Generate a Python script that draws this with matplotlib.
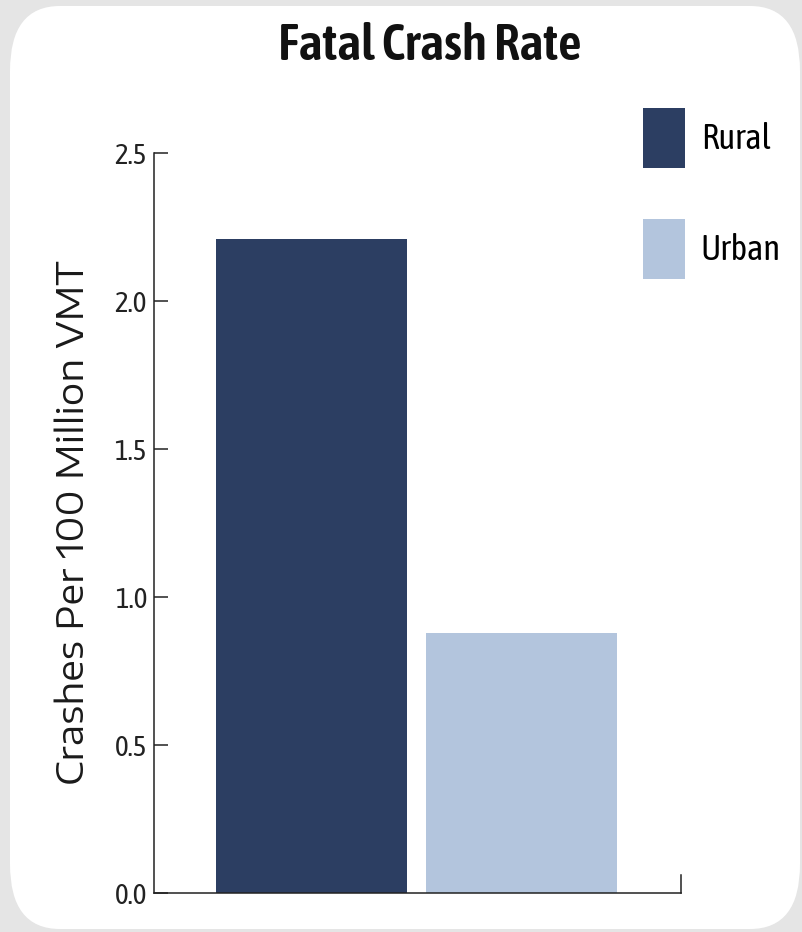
import matplotlib.pyplot as plt
from matplotlib.patches import FancyBboxPatch

# fatal crashes per 100 million vehicle miles travelled
areas = ['Rural', 'Urban']
rates = [2.21, 0.88]
bar_colors = ['#2c3e62', '#b3c5dd']
yticks = [0.0, 0.5, 1.0, 1.5, 2.0, 2.5]

narrow = ['Asap Condensed', 'DejaVu Sans']
wide = ['Encode Sans Expanded', 'Open Sans', 'DejaVu Sans']

fig = plt.figure(figsize=(8.02, 9.32), dpi=100, facecolor='#e5e5e5')

# white card with rounded corners behind everything
card = FancyBboxPatch((0.10, 0.03), 7.90, 9.23,
                      boxstyle='round,pad=0,rounding_size=0.5',
                      mutation_aspect=1.3,
                      transform=fig.dpi_scale_trans,
                      facecolor='white', edgecolor='none', zorder=-1)
fig.patches.append(card)

ax = fig.add_axes([0.192, 0.0418, 0.657, 0.794])
ax.set_facecolor('none')

bars = ax.bar([0, 1], rates, width=0.907, color=bar_colors, zorder=2)

ax.set_xlim(-0.748, 1.755)
ax.set_ylim(0, 2.5)
ax.set_xticks([])
ax.set_yticks(yticks)
ax.set_yticklabels(['%.1f' % t for t in yticks], family=narrow, stretch='condensed',
                   fontsize=21, color='#1a1a1a')
ax.tick_params(axis='y', direction='in', length=10, width=1.1, pad=5, colors='#222222')

for s in ['left', 'bottom', 'right']:
    ax.spines[s].set_linewidth(1.1)
    ax.spines[s].set_color('#222222')
ax.spines['top'].set_visible(False)
ax.spines['right'].set_bounds(0, 0.06)

ax.set_ylabel('Crashes Per 100 Million VMT', fontsize=26.5, family=wide,
              color='#1a1a1a', labelpad=16)

fig.text(0.536, 0.950, 'Fatal Crash Rate', ha='center', va='center',
         fontsize=37, fontweight=600, family=narrow, stretch='condensed',
         color='#111111')

fig.legend(bars, areas, loc='upper left', bbox_to_anchor=(643 / 802, 1 - 108 / 932),
           frameon=False, borderpad=0, borderaxespad=0,
           prop={'family': narrow, 'stretch': 'condensed', 'size': 25},
           handlelength=1.21, handleheight=2.3, labelspacing=1.45, handletextpad=0.45)

fig.savefig('out.png', dpi=100, facecolor=fig.get_facecolor())
